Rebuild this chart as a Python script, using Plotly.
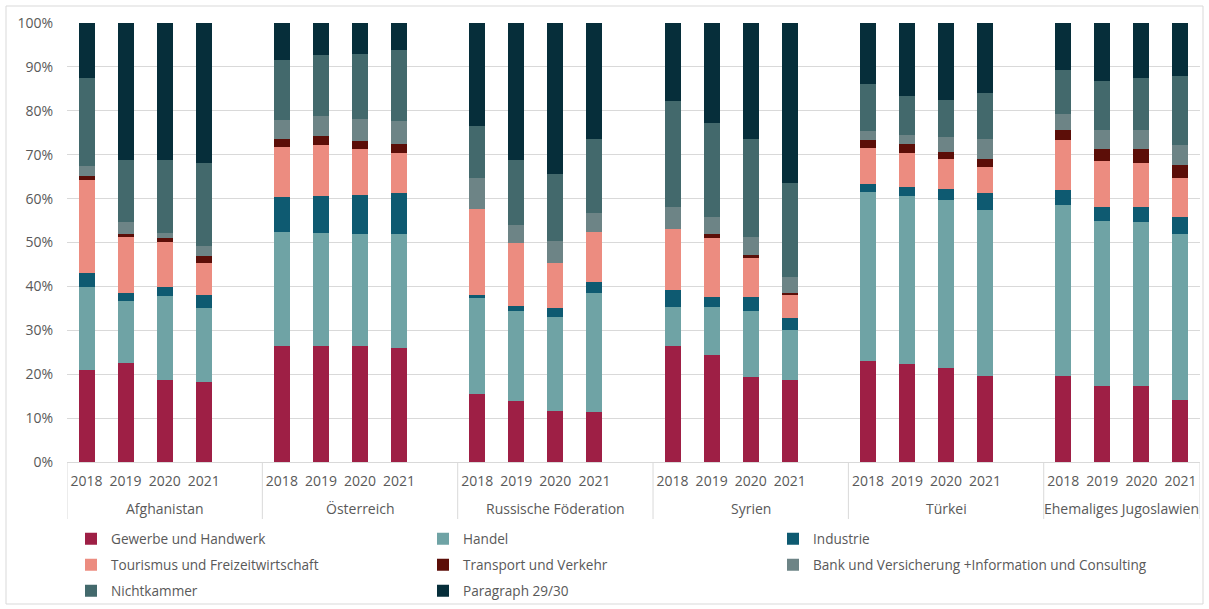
import plotly.graph_objects as go

countries = ["Afghanistan", "Österreich", "Russische Föderation", "Syrien", "Türkei", "Ehemaliges Jugoslawien"]
years = ["2018", "2019", "2020", "2021"]

series_names = [
    "Gewerbe und Handwerk", "Handel", "Industrie",
    "Tourismus und Freizeitwirtschaft", "Transport und Verkehr",
    "Bank und Versicherung +Information und Consulting",
    "Nichtkammer", "Paragraph 29/30",
]
colors = ["#9E1F45", "#6FA3A5", "#0E5A71", "#EC8C80", "#5C0E08", "#6D8486", "#43696C", "#062E3A"]

# values per country, per year (2018..2021), in %
gewerbe = {
    "Afghanistan": [20.9, 22.6, 18.6, 18.2],
    "Österreich": [26.4, 26.4, 26.4, 26.0],
    "Russische Föderation": [15.6, 13.9, 11.6, 11.4],
    "Syrien": [26.5, 24.3, 19.4, 18.6],
    "Türkei": [23.0, 22.4, 21.3, 19.5],
    "Ehemaliges Jugoslawien": [19.6, 17.3, 17.3, 14.1],
}
handel = {
    "Afghanistan": [18.9, 14.1, 19.2, 16.8],
    "Österreich": [25.9, 25.7, 25.5, 25.9],
    "Russische Föderation": [21.7, 20.5, 21.5, 27.2],
    "Syrien": [8.9, 11.1, 15.0, 11.4],
    "Türkei": [38.6, 38.3, 38.4, 37.8],
    "Ehemaliges Jugoslawien": [39.0, 37.7, 37.3, 37.8],
}
industrie = {
    "Afghanistan": [3.2, 1.9, 2.0, 3.1],
    "Österreich": [8.0, 8.5, 8.9, 9.3],
    "Russische Föderation": [0.8, 1.1, 1.9, 2.5],
    "Syrien": [3.8, 2.2, 3.1, 2.7],
    "Türkei": [1.7, 1.9, 2.4, 3.9],
    "Ehemaliges Jugoslawien": [3.4, 3.1, 3.6, 4.0],
}
tourismus = {
    "Afghanistan": [21.3, 12.7, 10.3, 7.2],
    "Österreich": [11.4, 11.7, 10.5, 9.3],
    "Russische Föderation": [19.5, 14.3, 10.4, 11.4],
    "Syrien": [13.9, 13.5, 8.9, 5.3],
    "Türkei": [8.3, 7.7, 7.0, 5.9],
    "Ehemaliges Jugoslawien": [11.4, 10.5, 10.0, 8.7],
}
transport = {
    "Afghanistan": [0.9, 0.6, 0.9, 1.6],
    "Österreich": [1.8, 2.0, 1.9, 2.0],
    "Russische Föderation": [0.0, 0.0, 0.0, 0.0],
    "Syrien": [0.0, 0.8, 0.7, 0.6],
    "Türkei": [1.8, 2.2, 1.6, 2.0],
    "Ehemaliges Jugoslawien": [2.3, 2.7, 3.1, 3.1],
}
bank = {
    "Afghanistan": [2.2, 2.7, 1.1, 2.3],
    "Österreich": [4.4, 4.6, 5.0, 5.1],
    "Russische Föderation": [7.2, 4.1, 5.0, 4.2],
    "Syrien": [5.1, 4.0, 4.1, 3.6],
    "Türkei": [2.1, 1.9, 3.3, 4.4],
    "Ehemaliges Jugoslawien": [3.5, 4.4, 4.4, 4.4],
}
nichtkammer = {
    "Afghanistan": [20.0, 14.1, 16.6, 18.9],
    "Österreich": [13.6, 13.9, 14.7, 16.3],
    "Russische Föderation": [11.8, 14.8, 15.2, 16.8],
    "Syrien": [24.1, 21.3, 22.3, 21.3],
    "Türkei": [10.7, 9.0, 8.5, 10.5],
    "Ehemaliges Jugoslawien": [10.1, 11.0, 11.8, 15.9],
}
paragraph = {
    "Afghanistan": [12.6, 31.3, 31.3, 31.9],
    "Österreich": [8.5, 7.2, 7.1, 6.1],
    "Russische Föderation": [23.4, 31.3, 34.4, 26.5],
    "Syrien": [17.7, 22.8, 26.5, 36.5],
    "Türkei": [13.8, 16.6, 17.5, 16.0],
    "Ehemaliges Jugoslawien": [10.7, 13.3, 12.5, 12.0],
}
all_series = [gewerbe, handel, industrie, tourismus, transport, bank, nichtkammer, paragraph]

# Category slots: 4 years per country plus one empty slot between countries (as in the original)
SLOTS = len(years) + 1
xpos, xlab = [], []
for i, c in enumerate(countries):
    for j, y in enumerate(years):
        xpos.append(i * SLOTS + j)
        xlab.append(y)

def flatten(d):
    out = []
    for c in countries:
        out.extend(d[c])
    return out

FONT = "Open Sans"
TXT = "#595959"
GRID = "#D9D9D9"

W, H = 1209, 609
ml, mr, mt, mb = 67, 9, 23, 147
pw, ph = W - ml - mr, H - mt - mb

# legend grid: 3 columns x 3 rows (row-major order), each entry its own legend box
legend_cols_px = [71, 423, 773]
legend_rows_px = [539, 565, 591]
legend_ids = ["legend"] + [f"legend{k}" for k in range(2, len(series_names) + 1)]

fig = go.Figure()
for name, col, d, lg in zip(series_names, colors, all_series, legend_ids):
    fig.add_trace(go.Bar(
        x=xpos, y=flatten(d), name=name, legend=lg,
        marker=dict(color=col, line=dict(width=0)),
        width=0.41,
    ))

x_min = -0.5
x_max = xpos[-1] + 0.5

legend_layout = {}
for k, lg in enumerate(legend_ids):
    r, c = divmod(k, 3)
    legend_layout[lg] = dict(
        orientation="h",
        xref="container", yref="container",
        x=legend_cols_px[c] / W, xanchor="left",
        y=1 - legend_rows_px[r] / H, yanchor="middle",
        font=dict(family=FONT, size=13.6, color=TXT),
        itemwidth=30, bgcolor="rgba(0,0,0,0)", borderwidth=0,
    )

fig.update_layout(
    width=W, height=H,
    barmode="stack", barnorm="percent",
    plot_bgcolor="white", paper_bgcolor="white",
    margin=dict(l=ml, r=mr, t=mt, b=mb, autoexpand=False),
    font=dict(family=FONT, size=14, color=TXT),
    showlegend=True,
    **legend_layout,
)
fig.update_yaxes(
    range=[0, 100], dtick=10, ticksuffix="%",
    showgrid=True, gridcolor=GRID, gridwidth=1,
    zeroline=False, showline=False,
    ticks="outside", ticklen=10, tickcolor="rgba(0,0,0,0)",
    tickfont=dict(family=FONT, size=14, color=TXT),
)
fig.update_xaxes(
    range=[x_min, x_max],
    tickmode="array", tickvals=xpos, ticktext=xlab, tickangle=0,
    showline=True, linecolor=GRID, linewidth=1,
    ticks="outside", ticklen=6, tickcolor="rgba(0,0,0,0)",
    tickfont=dict(family=FONT, size=14, color=TXT),
    showgrid=False, zeroline=False,
)

# group dividers and country labels below the year labels
div_bottom = (462 - 519) / ph
for i, c in enumerate(countries):
    left = i * SLOTS - 0.5
    right = min(left + SLOTS, x_max)
    fig.add_shape(type="line", xref="x", yref="paper", x0=left, x1=left, y0=0, y1=div_bottom,
                  line=dict(color=GRID, width=1))
    fig.add_annotation(x=(left + right) / 2, xref="x", y=(462 - 508) / ph, yref="paper",
                       text=c, showarrow=False, yanchor="middle", xanchor="center",
                       font=dict(family=FONT, size=14, color=TXT))
fig.add_shape(type="line", xref="x", yref="paper", x0=x_max, x1=x_max, y0=0, y1=div_bottom,
              line=dict(color=GRID, width=1))

# outer chart border
fig.add_shape(
    type="rect", xref="paper", yref="paper",
    x0=(6 - ml) / pw, x1=(1203 - ml) / pw,
    y0=(462 - 604) / ph, y1=(462 - 6) / ph,
    line=dict(color=GRID, width=1), fillcolor="rgba(0,0,0,0)", layer="below",
)
fig.write_html("out.html", config={"displayModeBar": False},
               post_script="document.body.style.margin='0px';")
